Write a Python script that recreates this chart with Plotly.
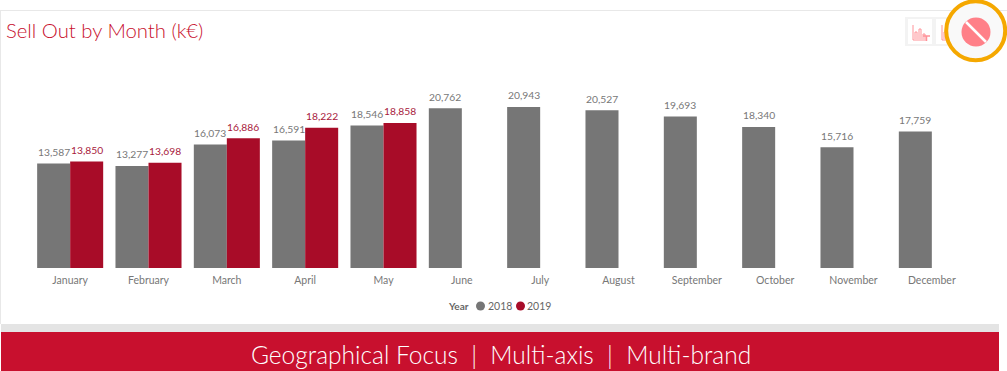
import plotly.graph_objects as go

months = ["January","February","March","April","May","June","July","August","September","October","November","December"]
sales_2018 = [13587,13277,16073,16591,18546,20762,20943,20527,19693,18340,15716,17759]
sales_2019 = [13850,13698,16886,18222,18858,None,None,None,None,None,None,None]
GREY = "#767676"; RED = "#A80C28"; BANNER = "#C8102E"; TXT = "#777777"
FONT = "Lato"
W, H = 1007, 371
px = lambda x: x / W
py = lambda y: 1 - y / H

fig = go.Figure()
for name, vals, col, tcol, shift in [("2018", sales_2018, GREY, "#777777", -16.5), ("2019", sales_2019, RED, "#A8203C", 16.5)]:
    fig.add_bar(name=name, x=months, y=vals, marker=dict(color=col, line=dict(width=0)),
                showlegend=False, hoverinfo="x+y")
    for m, v in zip(months, vals):
        if v is not None:
            fig.add_annotation(x=m, y=v, xref="x", yref="y", text=f"{v:,}", showarrow=False, xshift=shift, yshift=11.5,
                               xanchor="center", yanchor="middle", font=dict(family=FONT, size=10.3, color=tcol))

def rect(x0, y0, x1, y1, fill, line=None, lw=0, layer="below"):
    fig.add_shape(type="rect", xref="paper", yref="paper", x0=px(x0), x1=px(x1), y0=py(y0), y1=py(y1),
                  fillcolor=fill, line=dict(color=line or fill, width=lw), layer=layer)
def circle(cx, cy, r, fill, line=None, lw=0):
    fig.add_shape(type="circle", xref="paper", yref="paper", x0=px(cx-r), x1=px(cx+r), y0=py(cy+r), y1=py(cy-r),
                  fillcolor=fill, line=dict(color=line or fill, width=lw), layer="above")
def seg(x0, y0, x1, y1, col, lw):
    fig.add_shape(type="line", xref="paper", yref="paper", x0=px(x0), x1=px(x1), y0=py(y0), y1=py(y1),
                  line=dict(color=col, width=lw), layer="above")
def text(x, y, s, size, col, anchor="left", weight=None):
    fig.add_annotation(x=px(x), y=py(y), xref="paper", yref="paper", text=s, showarrow=False, xanchor=anchor,
                       yanchor="middle", font=dict(family=FONT, size=size, color=col, weight=weight), borderpad=0, borderwidth=0)

# panel and banner
seg(0, 10.5, 1007, 10.5, "#E8E8E8", 1)
seg(0.5, 10, 0.5, 324, "#E8E8E8", 1)
rect(1, 324, 999, 332, "#E4E4E4")
rect(1, 332, 999, 371, BANNER)
text(500.5, 354, "Geographical Focus  |  Multi-axis  |  Multi-brand", 24.5, "#FFFFFF", "center", 300)
text(6, 30, "Sell Out by Month (k€)", 20.3, BANNER, "left", 300)

# legend
text(448, 306, "<b>Year</b>", 10, "#666666")
circle(480.5, 306, 4.5, GREY)
text(488, 306, "2018", 10.5, "#666666")
circle(520.5, 306, 4.5, RED)
text(527, 306, "2019", 10.5, "#666666")

# toolbar icons
ICON = "#FF9298"
rect(905, 17, 968, 46, "#F3F3F3", layer="above")
rect(908, 19, 932, 44, "#FFFFFF", layer="above")
rect(936, 19, 960, 44, "#FFFFFF", layer="above")
for off in (0, 29):
    seg(913+off, 25, 913+off, 40, ICON, 1)
    seg(913+off, 40, 926+off, 40, ICON, 1)
    for a, b in [(915, 32), (919, 29), (923, 34)]:
        seg(a+off, 39, a+off, b, ICON, 1)
        seg(a+off+2, 39, a+off+2, b, ICON, 1)
        seg(a+off, b, a+off+2, b, ICON, 1)
seg(923, 36, 930, 36, ICON, 1.5)
seg(926.5, 36, 926.5, 41, ICON, 1.5)

# highlighted button
circle(975.7, 30.7, 29.5, "#F9F9F9", "#F5A800", 4)
circle(976, 32, 14.5, "#FF8088")
seg(966, 22, 986, 42, "#FFFFFF", 2.5)

fig.update_layout(
    width=W, height=H, margin=dict(l=0, r=0, t=0, b=0), autosize=False,
    paper_bgcolor="white", plot_bgcolor="white",
    barmode="group", bargap=0.157, bargroupgap=0,
    font=dict(family=FONT, size=10.5, color=TXT),
    xaxis=dict(domain=[px(31), px(971)], showline=False, showgrid=False, ticks="", tickfont=dict(size=10.5, color=TXT), tickangle=0, ticklabelstandoff=4),
    yaxis=dict(domain=[py(268), py(60)], range=[0, 27048], visible=False),
)
fig.write_html("out.html", config=dict(displayModeBar=False), post_script="document.body.style.margin='0';document.body.style.overflow='hidden';")
